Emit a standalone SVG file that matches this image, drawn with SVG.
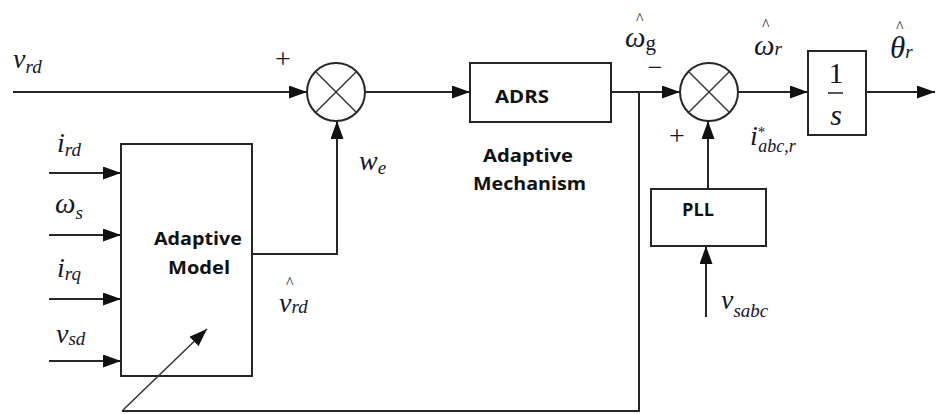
<svg xmlns="http://www.w3.org/2000/svg" width="936" height="414" viewBox="0 0 936 414">
<defs>
<style>
.ln{fill:none;stroke:#262626;stroke-width:2}
.thin{fill:none;stroke:#333;stroke-width:1.5}
.box{fill:none;stroke:#262626;stroke-width:2}
.sum{fill:none;stroke:#262626;stroke-width:2}
.m{font-family:"Liberation Serif","DejaVu Serif",serif;font-style:italic;fill:#15152a}
.n{font-family:"Liberation Serif","DejaVu Serif",serif;fill:#15152a}
.b{font-family:"Open Sans","Liberation Sans",sans-serif;font-weight:bold;font-size:17px;fill:#111}
.hat{font-size:16px;font-style:normal}
</style>
<marker id="arr" markerWidth="18" markerHeight="13" refX="18" refY="6.5" orient="auto" markerUnits="userSpaceOnUse">
<path d="M0,0 L18,6.5 L0,13 z" fill="#111"/>
</marker>
</defs>

<g id="sum1">
<circle class="sum" cx="336" cy="92" r="29"/>
<line class="thin" x1="315.5" y1="71.5" x2="356.5" y2="112.5"/>
<line class="thin" x1="356.5" y1="71.5" x2="315.5" y2="112.5"/>
</g>

<g id="sum2">
<circle class="sum" cx="709" cy="92" r="29"/>
<line class="thin" x1="688.5" y1="71.5" x2="729.5" y2="112.5"/>
<line class="thin" x1="729.5" y1="71.5" x2="688.5" y2="112.5"/>
</g>

<g id="adrs">
<rect class="box" x="470" y="63" width="141" height="59"/>
<text class="b" x="495" y="103" textLength="54" lengthAdjust="spacingAndGlyphs">ADRS</text>
</g>

<g id="adaptive-mechanism-label">
<text class="b" x="483" y="162" textLength="90" lengthAdjust="spacingAndGlyphs">Adaptive</text>
<text class="b" x="473" y="190" textLength="113" lengthAdjust="spacingAndGlyphs">Mechanism</text>
</g>

<g id="adaptive-model">
<rect class="box" x="121" y="144" width="131" height="232"/>
<text class="b" x="154" y="245" textLength="88" lengthAdjust="spacingAndGlyphs">Adaptive</text>
<text class="b" x="168" y="274" textLength="62" lengthAdjust="spacingAndGlyphs">Model</text>
</g>

<g id="integrator">
<rect class="box" x="808" y="51" width="58" height="84"/>
<text class="n" x="836" y="83" font-size="30" text-anchor="middle">1</text>
<line x1="828" y1="93" x2="843" y2="93" stroke="#222" stroke-width="1.5"/>
<text class="m" x="836" y="125" font-size="30" text-anchor="middle">s</text>
</g>

<g id="pll">
<rect class="box" x="651" y="189" width="115" height="57"/>
<text class="b" x="682" y="216" textLength="32" lengthAdjust="spacingAndGlyphs">PLL</text>
</g>

<g id="connectors">
<line class="ln" x1="13" y1="92" x2="307" y2="92" marker-end="url(#arr)"/>
<line class="ln" x1="365" y1="92" x2="470" y2="92" marker-end="url(#arr)"/>
<line class="ln" x1="611" y1="92" x2="680" y2="92" marker-end="url(#arr)"/>
<line class="ln" x1="738" y1="92" x2="808" y2="92" marker-end="url(#arr)"/>
<line class="ln" x1="866" y1="92" x2="935" y2="92" marker-end="url(#arr)"/>
<polyline class="ln" points="639,92 639,411 122,411"/>
<line class="thin" x1="122" y1="411" x2="207" y2="329" marker-end="url(#arr)"/>
<polyline class="ln" points="252,254 337,254 337,121" marker-end="url(#arr)"/>
<line class="ln" x1="708" y1="189" x2="708" y2="121" marker-end="url(#arr)"/>
<line class="ln" x1="706" y1="317" x2="706" y2="246" marker-end="url(#arr)"/>
<line class="ln" x1="49" y1="173" x2="121" y2="173" marker-end="url(#arr)"/>
<line class="ln" x1="49" y1="235" x2="121" y2="235" marker-end="url(#arr)"/>
<line class="ln" x1="49" y1="299" x2="121" y2="299" marker-end="url(#arr)"/>
<line class="ln" x1="49" y1="361" x2="121" y2="361" marker-end="url(#arr)"/>
</g>

<g id="labels">
<text class="m" x="13" y="68" font-size="28">v<tspan font-size="19" dy="5">rd</tspan></text>
<text class="n" x="283" y="68" font-size="28" text-anchor="middle">+</text>
<text class="m" x="359" y="170" font-size="28">w<tspan font-size="19" dy="4">e</tspan></text>

<text class="m" x="57" y="152" font-size="28">i<tspan font-size="19" dy="4">rd</tspan></text>
<text class="m" x="55" y="213" font-size="29">ω<tspan font-size="19" dy="6">s</tspan></text>
<text class="m" x="57" y="277" font-size="28">i<tspan font-size="19" dy="3">rq</tspan></text>
<text class="m" x="56" y="343" font-size="28">v<tspan font-size="19" dy="2">sd</tspan></text>

<text class="m" font-size="28"><tspan class="hat" x="286" y="288">^</tspan><tspan x="279" y="312">v</tspan><tspan font-size="19" dy="1">rd</tspan></text>

<text class="m" font-size="29"><tspan class="hat" x="636" y="24">^</tspan><tspan x="625" y="47">ω</tspan><tspan font-size="21" font-style="normal" dy="3">g</tspan></text>
<text class="n" x="655" y="76" font-size="26" text-anchor="middle">−</text>

<text class="m" font-size="29"><tspan class="hat" x="762" y="30">^</tspan><tspan x="754" y="55">ω</tspan><tspan font-size="19">r</tspan></text>

<text class="m" font-size="31"><tspan class="hat" x="896" y="32">^</tspan><tspan x="890" y="58">θ</tspan><tspan font-size="19">r</tspan></text>

<text class="n" x="677" y="145" font-size="28" text-anchor="middle">+</text>
<text class="m" x="750" y="145" font-size="28">i<tspan class="n" font-style="normal" font-size="15" dy="-8">*</tspan><tspan font-size="18" dx="-7" dy="15">abc,r</tspan></text>

<text class="m" x="721" y="309" font-size="28">v<tspan font-size="19" dy="8">sabc</tspan></text>
</g>
</svg>
